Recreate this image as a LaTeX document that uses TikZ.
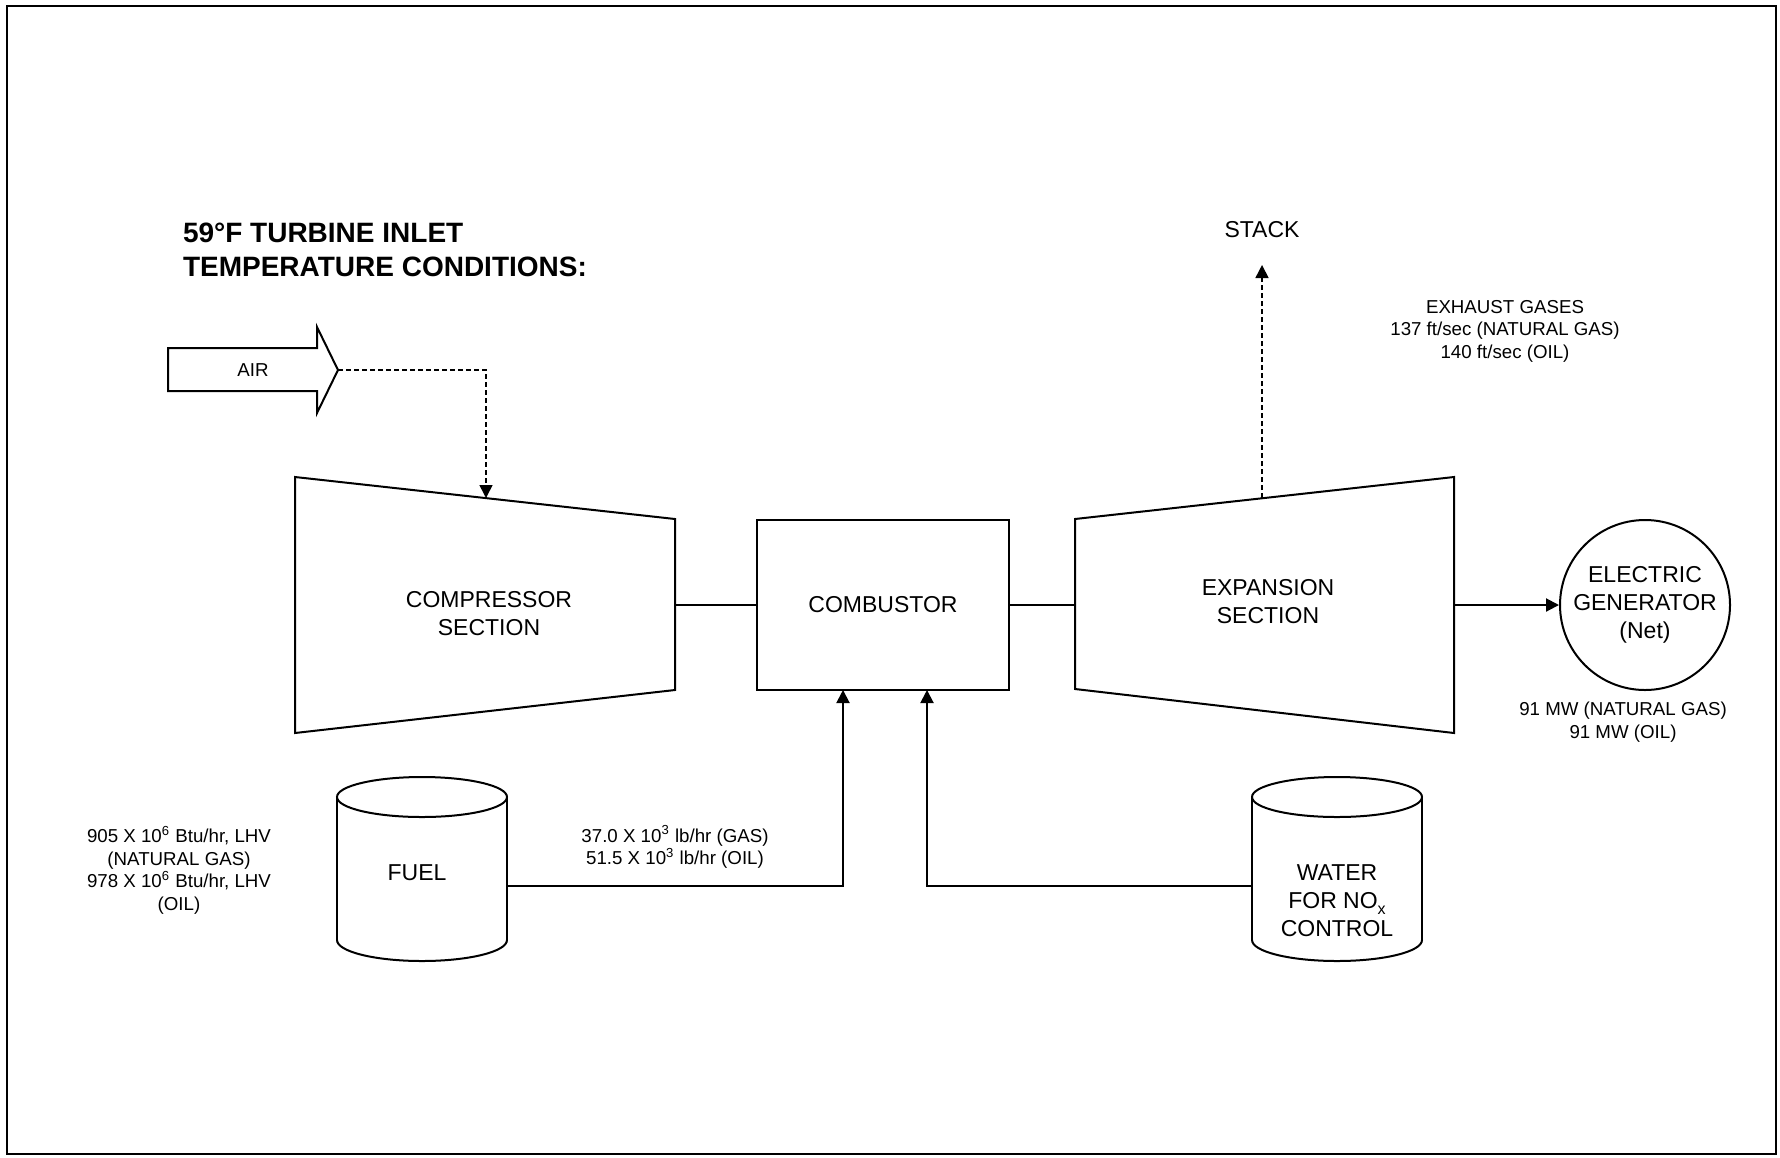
\documentclass[tikz,border=0pt]{standalone}
\usepackage{fontspec}
\setmainfont{Liberation Sans}
\usetikzlibrary{arrows.meta}
\begin{document}
\begin{tikzpicture}[x=0.5pt,y=-0.5pt,line width=1pt,
  lbl/.style={font=\fontsize{11.5}{14}\selectfont,align=center,inner sep=0pt},
  small/.style={font=\fontsize{9.35}{11.2}\selectfont,align=center,inner sep=0pt},
  arr/.style={-{Triangle[length=6.5pt,width=6.5pt]}},
  dsh/.style={dash pattern=on 2.5pt off 1.5pt,line width=0.8pt},
  tank/.pic={
    \draw (-85,0) -- (-85,143);
    \draw (85,0) -- (85,143);
    \draw (0,0) ellipse [x radius=85,y radius=20];
    \draw (-85,143) arc [start angle=180,end angle=360,x radius=85,y radius=-21];
  }]
\useasboundingbox (0,0) rectangle (1780,1157);
% frame
\draw[line width=1.2pt] (7,6) rectangle (1776,1154);
% title
\node[anchor=west,align=left,inner sep=0pt,font=\fontsize{14}{17}\selectfont\bfseries] (title) at (182,250) {59°F TURBINE INLET\\TEMPERATURE CONDITIONS:};
% air arrow
\coordinate (airtip) at (338,370);
\draw (168,348) -- (317,348) -- (317,327) -- (airtip) -- (317,413) -- (317,391) -- (168,391) -- cycle;
\node[small] (air) at (253,370) {AIR};
% compressor
\coordinate (c1) at (295,477);
\coordinate (c2) at (675,519);
\coordinate (c3) at (675,690);
\coordinate (c4) at (295,733);
\draw (c1) -- (c2) -- (c3) -- (c4) -- cycle;
\node[lbl] (comp) at (489,614) {COMPRESSOR\\SECTION};
\coordinate (cin) at (486,498);
\coordinate (cR) at (675,605);
% combustor
\node[draw,lbl,minimum width=126pt,minimum height=85pt] (comb) at (883,605) {COMBUSTOR};
% expansion
\coordinate (e1) at (1075,519);
\coordinate (e2) at (1454,477);
\coordinate (e3) at (1454,733);
\coordinate (e4) at (1075,689);
\draw (e1) -- (e2) -- (e3) -- (e4) -- cycle;
\node[lbl] (exp) at (1268,602) {EXPANSION\\SECTION};
\coordinate (eL) at (1075,605);
\coordinate (eR) at (1454,605);
\coordinate (eout) at (1262,498);
% generator
\node[draw,circle,lbl,minimum size=85pt] (gen) at (1645,605) {ELECTRIC\\GENERATOR\\(Net)};
\node[small] (mw) at (1623,722) {91 MW (NATURAL GAS)\\91 MW (OIL)};
% stack
\node[lbl] (stack) at (1262,230) {STACK};
\coordinate (stacktip) at (1262,265);
\node[small] (exh) at (1505,331) {EXHAUST GASES\\137 ft/sec (NATURAL GAS)\\140 ft/sec (OIL)};
% tanks
\pic at (422,797) {tank};
\pic at (1337,797) {tank};
\node[lbl] (fuel) at (417,873) {FUEL};
\node[lbl] (water) at (1337,901) {WATER\\FOR NO\raisebox{-0.45ex}{\fontsize{8}{8}\selectfont x}\\CONTROL};
\coordinate (fuelR) at (507,886);
\coordinate (waterL) at (1252,886);
\coordinate (fin) at (843,690);
\coordinate (win) at (927,690);
\node[small] (heat) at (179,870) {905 X 10\textsuperscript{6} Btu/hr, LHV\\(NATURAL GAS)\\978 X 10\textsuperscript{6} Btu/hr, LHV\\(OIL)};
\node[small] (flow) at (675,847) {37.0 X 10\textsuperscript{3} lb/hr (GAS)\\51.5 X 10\textsuperscript{3} lb/hr (OIL)};
% connectors
\draw[dsh,arr] (airtip) -| (cin);
\draw[dsh,arr] (eout) -- (stacktip);
\draw (cR) -- (comb.west);
\draw (comb.east) -- (eL);
\draw[arr] (eR) -- (gen.west);
\draw[arr] (fuelR) -| (fin);
\draw[arr] (waterL) -| (win);
\end{tikzpicture}
\end{document}
